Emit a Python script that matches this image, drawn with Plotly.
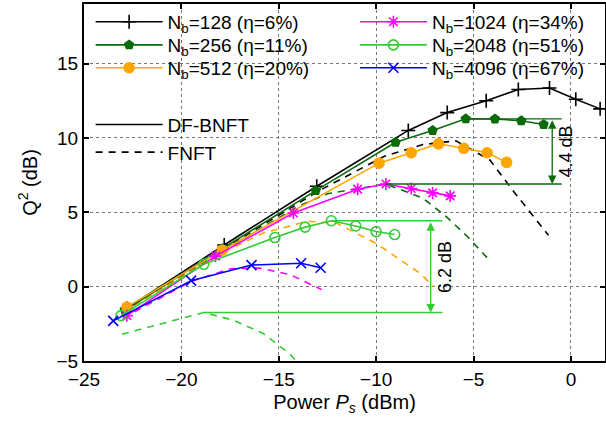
import plotly.graph_objects as go

# DF-BNFT (solid) results
x128 = [-22.8, -17.8, -13.05, -8.35, -6.35, -4.35, -2.7, -1.1, 0.25, 1.5]
y128 = [-1.45, 2.8, 6.75, 10.5, 11.7, 12.5, 13.25, 13.35, 12.6, 11.95]
x256 = [-22.9, -17.9, -13.1, -9.0, -7.1, -5.4, -3.9, -2.55, -1.4]
y256 = [-1.6, 2.55, 6.45, 9.7, 10.5, 11.28, 11.27, 11.15, 10.9]
x512 = [-22.8, -17.9, -9.85, -8.2, -6.8, -5.5, -4.3, -3.3]
y512 = [-1.38, 2.45, 8.3, 9.0, 9.6, 9.3, 9.0, 8.35]
x1024 = [-22.8, -18.25, -14.25, -10.95, -9.5, -8.2, -7.1, -6.2]
y1024 = [-1.95, 2.05, 4.95, 6.55, 6.9, 6.6, 6.3, 6.1]
x2048 = [-23.1, -18.85, -15.2, -13.65, -12.3, -11.05, -10.0, -9.05]
y2048 = [-1.95, 1.5, 3.3, 4.0, 4.43, 4.08, 3.7, 3.5]
x4096 = [-23.5, -19.5, -16.4, -13.85, -12.85]
y4096 = [-2.3, 0.4, 1.45, 1.57, 1.27]

# FNFT (dashed) results
xf128 = [-23.0, -18.0, -13.0, -9.6, -7.6, -5.9, -4.15, -3.0, -1.15]
yf128 = [-1.7, 2.4, 6.4, 8.75, 9.55, 9.8, 8.5, 6.5, 3.45]
xf256 = [-23.0, -18.0, -14.0, -12.5, -9.5, -7.6, -6.4, -5.3, -4.2]
yf256 = [-1.7, 2.3, 5.4, 6.25, 6.9, 5.95, 4.7, 3.35, 1.8]
xf512 = [-23.0, -18.0, -15.8, -13.5, -12.0, -10.0, -7.75, -7.05]
yf512 = [-1.7, 2.2, 3.6, 4.4, 4.25, 2.9, 0.9, 0.0]
xf1024 = [-23.0, -19.5, -17.5, -16.0, -14.4, -12.8]
yf1024 = [-2.1, 0.35, 1.2, 1.25, 0.8, -0.2]
xf2048 = [-23.05, -18.85, -17.35, -15.8, -14.45, -13.9]
yf2048 = [-3.2, -1.74, -2.25, -3.15, -4.5, -5.3]

names = ["N<sub>b</sub>=128 (η=6%)", "N<sub>b</sub>=256 (η=11%)", "N<sub>b</sub>=512 (η=20%)",
         "N<sub>b</sub>=1024 (η=34%)", "N<sub>b</sub>=2048 (η=51%)", "N<sub>b</sub>=4096 (η=67%)"]

C_BLACK = "#000000"
C_DGREEN = "#0b6b0b"
C_ORANGE = "#FFA500"
C_MAG = "#FF00FF"
C_LGREEN = "#33CC33"
C_BLUE = "#0000FF"

FONT = "Liberation Sans, Arial, Helvetica, sans-serif"

fig = go.Figure()

# dashed FNFT curves
for xs, ys, c in [(xf128, yf128, C_BLACK), (xf256, yf256, C_DGREEN), (xf512, yf512, C_ORANGE),
                  (xf1024, yf1024, C_MAG), (xf2048, yf2048, C_LGREEN)]:
    fig.add_trace(go.Scatter(x=xs, y=ys, mode="lines", line=dict(color=c, width=1.6, dash="7px,6px"),
                             showlegend=False, hoverinfo="skip"))

# one legend box per entry so the 2-column layout is exact
legend_ids = ["legend", "legend2", "legend3", "legend4", "legend5", "legend6"]
series = [
    (x128, y128, C_BLACK, "cross-thin", 10),
    (x256, y256, C_DGREEN, "pentagon", 9),
    (x512, y512, C_ORANGE, "circle", 10),
    (x1024, y1024, C_MAG, "asterisk", 10),
    (x2048, y2048, C_LGREEN, "circle-open", 10),
    (x4096, y4096, C_BLUE, "x-thin", 10),
]
for i, (xs, ys, c, sym, sz) in enumerate(series):
    fig.add_trace(go.Scatter(
        x=xs, y=ys, mode="lines+markers", name=names[i], legend=legend_ids[i],
        line=dict(color=c, width=1.6),
        marker=dict(symbol=sym, size=sz, color=c, line=dict(color=c, width=1.6)),
    ))

# legend-only entries for line style
fig.add_trace(go.Scatter(x=[None], y=[None], mode="lines", name="DF-BNFT",
                         line=dict(color="black", width=1.6), legend="legend7"))
fig.add_trace(go.Scatter(x=[None], y=[None], mode="lines", name="FNFT",
                         line=dict(color="black", width=1.6, dash="7px,6px"), legend="legend7"))

# gain annotations derived from data
def gain_marker(xs_hi, ys_hi, xs_lo, ys_lo, x_end, x_arrow, x_text, color):
    i_hi = max(range(len(ys_hi)), key=lambda k: ys_hi[k])
    i_lo = max(range(len(ys_lo)), key=lambda k: ys_lo[k])
    yh, yl = ys_hi[i_hi], ys_lo[i_lo]
    fig.add_shape(type="line", x0=xs_hi[i_hi], x1=x_end, y0=yh, y1=yh, line=dict(color=color, width=1.3))
    fig.add_shape(type="line", x0=xs_lo[i_lo], x1=x_end, y0=yl, y1=yl, line=dict(color=color, width=1.3))
    fig.add_annotation(x=x_arrow, y=yl, ax=x_arrow, ay=yh, axref="x", ayref="y", xref="x", yref="y",
                       text="", showarrow=True, arrowhead=2, arrowside="end+start", arrowsize=1.3,
                       arrowwidth=1.3, arrowcolor=color, standoff=0, startstandoff=0)
    fig.add_annotation(x=x_text, y=(yh + yl) / 2, xref="x", yref="y", text=f"{yh - yl:.1f} dB",
                       textangle=-90, showarrow=False, font=dict(size=18, color="black", family=FONT))

gain_marker(x256, y256, xf256, yf256, -0.47, -0.96, -0.25, C_DGREEN)
gain_marker(x2048, y2048, xf2048, yf2048, -6.6, -7.2, -6.5, C_LGREEN)

axis_common = dict(showline=True, linecolor="black", linewidth=2, mirror="ticks",
                   ticks="inside", ticklen=5, tickcolor="black", tickwidth=1.5,
                   showgrid=True, gridcolor="#777777", gridwidth=1, griddash="dot",
                   zeroline=False, automargin=False,
                   tickfont=dict(size=19, family=FONT, color="black"))

# legend placement (paper coords): column x, row centre y
col_x = [0.0127, 0.0127, 0.0127, 0.52, 0.52, 0.52]
row_y = [0.950, 0.885, 0.821, 0.950, 0.885, 0.821]
leg_layout = {}
for i, lid in enumerate(legend_ids):
    leg_layout[lid] = dict(x=col_x[i], y=row_y[i], xanchor="left", yanchor="middle",
                           bgcolor="rgba(0,0,0,0)", font=dict(size=19, family=FONT),
                           itemwidth=67, borderwidth=0)
leg_layout["legend7"] = dict(x=0.0127, y=0.623, xanchor="left", yanchor="middle",
                             bgcolor="rgba(0,0,0,0)", font=dict(size=19, family=FONT),
                             itemwidth=67, borderwidth=0)

fig.update_layout(
    width=606, height=430,
    margin=dict(l=84, r=1, t=4, b=69, autoexpand=False),
    paper_bgcolor="white", plot_bgcolor="white",
    font=dict(family=FONT, color="black", size=19),
    xaxis=dict(range=[-25, 1.75], tickvals=[-25, -20, -15, -10, -5, 0],
               title=dict(text="Power <i>P<sub>s</sub></i> (dBm)", standoff=6, font=dict(size=20)),
               **axis_common),
    yaxis=dict(range=[-5, 19], tickvals=[-5, 0, 5, 10, 15],
               title=dict(text="Q<sup>2</sup> (dB)", standoff=14, font=dict(size=20)),
               **axis_common),
    showlegend=True,
    **leg_layout,
)

fig.write_html("out.html", config={"displayModeBar": False},
               post_script="document.body.style.margin='0px';")
